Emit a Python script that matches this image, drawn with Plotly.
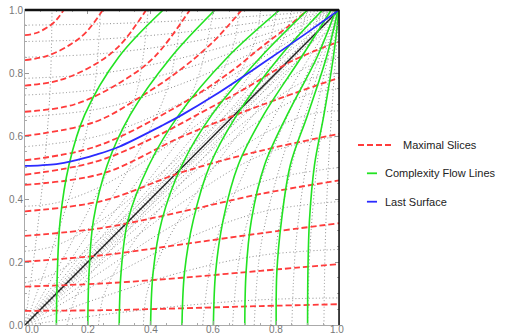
import plotly.graph_objects as go

# ---------------- data ----------------
tick_vals = [0.0, 0.2, 0.4, 0.6, 0.8, 1.0]
tick_text = ["0.0", "0.2", "0.4", "0.6", "0.8", "1.0"]
x_label_shift = [7, 0, 0, 0, 0, -2]   # Mathematica nudges the corner labels inward

legend_names = ["Maximal Slices", "Complexity Flow Lines", "Last Surface"]

# Maximal slices, lower family (end on the right edge)
red_lower = [
    ([0, 0.25, 0.5, 0.75, 1.0], [0.045, 0.047, 0.053, 0.060, 0.066]),
    ([0, 0.25, 0.5, 0.75, 1.0], [0.122, 0.132, 0.150, 0.172, 0.193]),
    ([0, 0.25, 0.5, 0.75, 1.0], [0.201, 0.222, 0.256, 0.291, 0.323]),
    ([0, 0.25, 0.5, 0.75, 1.0], [0.283, 0.309, 0.360, 0.416, 0.459]),
    ([0, 0.25, 0.5, 0.75, 1.0], [0.361, 0.395, 0.485, 0.553, 0.607]),
    ([0, 0.25, 0.5, 0.75, 1.0], [0.445, 0.482, 0.598, 0.697, 0.785]),
    ([0, 0.224, 0.4, 0.557, 0.7, 0.85, 1.0], [0.477, 0.518, 0.590, 0.672, 0.750, 0.838, 0.900]),
]
# Maximal slices, upper family (end on the top edge)
red_upper = [
    ([0, 0.224, 0.478, 0.65, 0.75, 0.843, 0.9], [0.523, 0.566, 0.690, 0.800, 0.880, 0.952, 1.0]),
    ([0, 0.224, 0.361, 0.494, 0.6, 0.69], [0.600, 0.645, 0.720, 0.810, 0.900, 1.0]),
    ([0, 0.157, 0.31, 0.412, 0.525], [0.677, 0.700, 0.774, 0.851, 1.0]),
    ([0, 0.113, 0.229, 0.303, 0.386], [0.760, 0.778, 0.831, 0.889, 1.0]),
    ([0, 0.073, 0.147, 0.195, 0.248], [0.841, 0.855, 0.892, 0.930, 1.0]),
    ([0, 0.036, 0.073, 0.097, 0.123], [0.920, 0.927, 0.946, 0.965, 1.0]),
]

# Complexity flow lines: x positions at these heights
green_y = [0, 0.167, 0.333, 0.508, 0.667, 0.85, 1.0]
green_x = [
    [0.100, 0.103, 0.112, 0.140, 0.190, 0.298, 0.440],
    [0.200, 0.204, 0.218, 0.262, 0.335, 0.465, 0.605],
    [0.300, 0.306, 0.328, 0.395, 0.490, 0.645, 0.811],
    [0.400, 0.408, 0.436, 0.500, 0.595, 0.750, 0.900],
    [0.500, 0.508, 0.536, 0.589, 0.675, 0.810, 0.948],
    [0.600, 0.607, 0.631, 0.679, 0.760, 0.880, 0.975],
    [0.700, 0.704, 0.721, 0.763, 0.835, 0.930, 0.990],
    [0.800, 0.802, 0.817, 0.845, 0.900, 0.960, 0.997],
    [0.900, 0.901, 0.906, 0.922, 0.952, 0.982, 1.000],
]

# Last surface
blue_x = [0, 0.05, 0.1, 0.15, 0.224, 0.3, 0.436, 0.5, 0.605, 0.75, 0.9, 1.0]
blue_y = [0.505, 0.507, 0.511, 0.520, 0.540, 0.566, 0.633, 0.667, 0.730, 0.826, 0.929, 1.0]

# Horizon (diagonal)
diag_x = [0, 1]
diag_y = [0, 1]

# Dotted grid, family A: curves leaving the left edge and running into the corner
gridA = [
    ([0, 0.1, 0.25, 0.5, 0.75, 0.9, 1], [0.134, 0.167, 0.283, 0.514, 0.756, 0.902, 1]),
    ([0, 0.1, 0.25, 0.5, 0.75, 0.9, 1], [0.234, 0.253, 0.337, 0.541, 0.767, 0.907, 1]),
    ([0, 0.1, 0.25, 0.5, 0.75, 0.9, 1], [0.377, 0.388, 0.444, 0.601, 0.794, 0.917, 1]),
    ([0, 0.25, 0.5, 0.75, 0.9, 1], [0.566, 0.604, 0.706, 0.845, 0.937, 1]),
    ([0, 0.25, 0.5, 0.75, 0.9, 1], [0.661, 0.689, 0.766, 0.876, 0.949, 1]),
    ([0, 0.25, 0.5, 0.75, 0.9, 1], [0.730, 0.751, 0.811, 0.899, 0.959, 1]),
    ([0, 0.25, 0.5, 0.75, 0.9, 1], [0.783, 0.800, 0.848, 0.918, 0.967, 1]),
    ([0, 0.25, 0.5, 0.75, 0.9, 1], [0.850, 0.862, 0.894, 0.943, 0.977, 1]),
    ([0, 0.25, 0.5, 0.75, 0.9, 1], [0.900, 0.908, 0.929, 0.962, 0.984, 1]),
    ([0, 0.25, 0.5, 0.75, 0.9, 1], [0.952, 0.956, 0.966, 0.982, 0.993, 1]),
]
# Dotted grid, family B: curves fanning out of the origin up to the top edge
gridB = [
    ([0, 0.013, 0.033, 0.061, 0.080, 0.086], [0, 0.1, 0.25, 0.5, 0.75, 1]),
    ([0, 0.037, 0.090, 0.168, 0.221, 0.240], [0, 0.1, 0.25, 0.5, 0.75, 1]),
    ([0, 0.058, 0.142, 0.268, 0.358, 0.392], [0, 0.1, 0.25, 0.5, 0.75, 1]),
    ([0, 0.071, 0.174, 0.333, 0.453, 0.500], [0, 0.1, 0.25, 0.5, 0.75, 1]),
    ([0, 0.081, 0.200, 0.388, 0.538, 0.600], [0, 0.1, 0.25, 0.5, 0.75, 1]),
    ([0, 0.087, 0.218, 0.425, 0.601, 0.667, 0.680], [0, 0.1, 0.25, 0.5, 0.75, 0.9, 1]),
    ([0, 0.092, 0.230, 0.453, 0.651, 0.732, 0.750], [0, 0.1, 0.25, 0.5, 0.75, 0.9, 1]),
    ([0, 0.095, 0.237, 0.470, 0.684, 0.778, 0.800], [0, 0.1, 0.25, 0.5, 0.75, 0.9, 1]),
    ([0, 0.097, 0.243, 0.483, 0.711, 0.820, 0.850], [0, 0.1, 0.25, 0.5, 0.75, 0.9, 1]),
    ([0, 0.098, 0.247, 0.492, 0.732, 0.859, 0.900], [0, 0.1, 0.25, 0.5, 0.75, 0.9, 1]),
    ([0, 0.099, 0.249, 0.498, 0.746, 0.888, 0.950], [0, 0.1, 0.25, 0.5, 0.75, 0.9, 1]),
]

# ---------------- styles ----------------
RED = "#ff3b3b"
GREEN = "#22e322"
BLUE = "#2b2bff"
GRAY = "#808080"
FONT = "Liberation Sans, Arial, sans-serif"

fig = go.Figure()

def add_line(x, y, color, width, dash="solid", opacity=1.0):
    fig.add_trace(go.Scatter(x=x, y=y, mode="lines",
                             line=dict(color=color, width=width, dash=dash, shape="spline", smoothing=1.0),
                             opacity=opacity, hoverinfo="skip", showlegend=False))

# grid (both families and their mirror images across the horizon)
for gx, gy in gridA:
    add_line(gx, gy, GRAY, 1, "1px,2.4px", 0.9)
    add_line(gy, gx, GRAY, 1, "1px,2.4px", 0.9)
for gx, gy in gridB:
    add_line(gx, gy, GRAY, 1, "1px,2.4px", 0.9)
    add_line(gy, gx, GRAY, 1, "1px,2.4px", 0.9)

# horizon
fig.add_trace(go.Scatter(x=diag_x, y=diag_y, mode="lines", line=dict(color="#222222", width=1.4),
                         hoverinfo="skip", showlegend=False))

# maximal slices
for rx, ry in red_lower + red_upper:
    add_line(rx, ry, RED, 1.8, "6px,3px")

# flow lines
for gx in green_x:
    add_line(gx, green_y, GREEN, 1.6)

# last surface
add_line(blue_x, blue_y, BLUE, 1.8)

# ---------------- layout ----------------
axis_common = dict(range=[0, 1], tickvals=tick_vals, ticktext=tick_text,
                   ticks="inside", ticklen=4, tickwidth=1, tickcolor="#999999",
                   showline=True, linecolor="#aaaaaa", linewidth=1, mirror="ticks",
                   showgrid=False, zeroline=False, automargin=False,
                   tickfont=dict(family=FONT, size=10, color="#777777"),
                   minor=dict(dtick=0.05, ticklen=2, ticks="inside", tickcolor="#aaaaaa", showgrid=False))

fig.update_layout(
    width=505, height=336,
    margin=dict(l=24.5, r=165.5, t=10, b=11, pad=0),
    paper_bgcolor="white", plot_bgcolor="white",
    showlegend=False,
    xaxis=dict(axis_common, showticklabels=False),
    yaxis=dict(axis_common, ticklabelstandoff=-1),
    font=dict(family=FONT),
)

# x tick labels, placed like the reference
for v, t, sh in zip(tick_vals, tick_text, x_label_shift):
    fig.add_annotation(xref="x", yref="paper", x=v, y=-0.0143, text=t, showarrow=False,
                       xanchor="center", yanchor="middle", xshift=sh,
                       font=dict(family=FONT, size=10, color="#777777"))

# boundary and singularity edges
fig.add_shape(type="line", xref="paper", yref="paper", x0=0, x1=1, y0=1, y1=1,
              line=dict(color="#111111", width=2.5))
fig.add_shape(type="line", xref="paper", yref="paper", x0=1, x1=1, y0=0, y1=1,
              line=dict(color="#111111", width=1.5))

# legend drawn beside the plot
leg_rows = [
    (RED, "6px,3px", 1.0605, 1.172, 0.5714, 1.197),
    (GREEN, "solid", 1.089, 1.121, 0.4816, 1.140),
    (BLUE, "solid", 1.089, 1.121, 0.3914, 1.140),
]
for (col, dsh, xa, xb, yy, xt), name in zip(leg_rows, legend_names):
    fig.add_shape(type="line", xref="paper", yref="paper", x0=xa, x1=xb, y0=yy, y1=yy,
                  line=dict(color=col, width=1.8, dash=dsh))
    fig.add_annotation(xref="paper", yref="paper", x=xt, y=yy, text=name, showarrow=False,
                       xanchor="left", yanchor="middle",
                       font=dict(family=FONT, size=11, color="#222222"))

# remove the page's default body margin so the figure sits at the window's corner
fig.write_html("out.html", config={"displayModeBar": False},
               post_script="document.body.style.margin='0px';")
